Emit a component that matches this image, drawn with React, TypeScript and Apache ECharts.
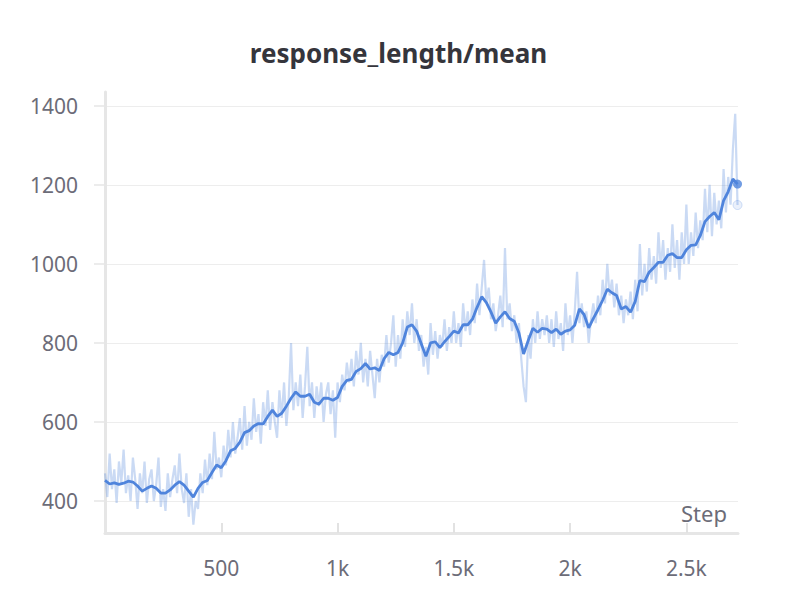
import React, { useEffect, useRef } from "react";
import * as echarts from "echarts";

const TITLE = "response_length/mean";
const X_NAME = "Step";
const X_TICKS = [500, 1000, 1500, 2000, 2500];
const Y_TICKS = [400, 600, 800, 1000, 1200, 1400];
const SMOOTH_STEP = 20;
const RAW_STEP = 10;

// smoothed (EMA) values, one every 20 steps from step 0
const smoothValues = [
  452, 443, 446, 442, 445, 450, 448, 438, 425, 432,
  438, 432, 420, 420, 428, 440, 449, 440, 425, 410,
  432, 447, 452, 472, 491, 484, 502, 527, 533, 549,
  573, 578, 590, 596, 595, 614, 630, 614, 622, 640,
  660, 676, 665, 665, 670, 650, 645, 660, 660, 655,
  662, 690, 705, 708, 728, 735, 748, 734, 737, 730,
  760, 776, 770, 776, 800, 840, 846, 830, 798, 766,
  800, 803, 788, 803, 816, 830, 825, 846, 846, 860,
  890, 917, 902, 878, 850, 866, 879, 862, 855, 825,
  772, 806, 837, 827, 837, 835, 826, 835, 822, 830,
  833, 845, 886, 872, 838, 862, 884, 908, 936, 927,
  920, 886, 892, 878, 905, 958, 955, 979, 991, 1004,
  1004, 1022, 1026, 1016, 1016, 1036, 1047, 1048, 1072, 1107,
  1120, 1130, 1112, 1160, 1183, 1215, 1202,
];

// raw values, one every 10 steps from step 0
const rawValues = [
  470, 410, 520, 430, 480, 395, 500, 445, 530, 420,
  465, 400, 510, 455, 380, 470, 420, 500, 395, 455,
  480, 400, 440, 510, 385, 430, 375, 470, 410, 455,
  490, 420, 520, 430, 395, 470, 360, 430, 340, 400,
  380, 470, 420, 505, 440, 520, 455, 575, 480, 510,
  460, 540, 490, 580, 510, 600, 520, 560, 610, 530,
  640, 540, 600, 555, 660, 575, 620, 545, 650, 590,
  680, 580, 650, 600, 560, 680, 610, 700, 590, 660,
  800, 630, 700, 640, 720, 610, 690, 790, 640, 700,
  610, 690, 640, 700, 600, 670, 700, 620, 680, 560,
  700, 650, 720, 680, 750, 700, 760, 690, 780, 720,
  800, 700, 760, 690, 780, 720, 660, 760, 700, 770,
  740, 820, 750, 800, 870, 740, 820, 760, 860, 790,
  880, 820, 900, 800, 860, 780, 820, 740, 790, 720,
  850, 770, 830, 760, 820, 790, 860, 780, 840, 800,
  880, 800, 850, 790, 900, 830, 880, 820, 910, 850,
  950, 870, 940, 1010, 900, 940, 860, 900, 830, 870,
  920, 840, 1040, 860, 900, 830, 870, 800, 850, 760,
  690, 650, 820, 760, 860, 800, 880, 810, 860, 820,
  870, 800, 860, 790, 880, 810, 850, 780, 900, 820,
  870, 800, 880, 980, 850, 900, 840, 880, 800, 860,
  900, 850, 920, 870, 960, 900, 1000, 920, 960, 890,
  950, 870, 920, 850, 910, 870, 930, 860, 960, 880,
  1050, 920, 1000, 930, 1040, 960, 1020, 950, 1080, 990,
  1060, 960, 1040, 980, 1100, 990, 1060, 960, 1080, 1000,
  1150, 1000, 1080, 1020, 1130, 1040, 1110, 1060, 1190, 1080,
  1200, 1070, 1180, 1100, 1160, 1090, 1240, 1130, 1220, 1150,
  1290, 1380, 1149,
];

const BLUE = "#4f84dc";
const FONT = "Noto Sans";

export default function App() {
  const ref = useRef<HTMLDivElement>(null);
  useEffect(() => {
    if (!ref.current) return;
    const chart = echarts.init(ref.current, null, { renderer: "svg" });
    const smooth = smoothValues.map((v, i) => [i * SMOOTH_STEP, v]);
    const raw = rawValues.map((v, i) => [i * RAW_STEP, v]);
    const lastSmooth = smooth[smooth.length - 1];
    const lastRaw = raw[raw.length - 1];
    chart.setOption({
      animation: false,
      title: {
        text: TITLE,
        left: "center",
        top: 35,
        textStyle: { fontFamily: FONT, fontSize: 26, fontWeight: "bold", color: "#35353c" },
      },
      grid: { left: 105, right: 59, top: 92, bottom: 80 },
      graphic: [
        {
          type: "text",
          right: 70,
          top: 502,
          style: { text: X_NAME, fontFamily: FONT, fontSize: 22, fill: "#6c6c78" },
        },
      ],
      xAxis: {
        type: "value",
        min: 0,
        max: 2722,
        axisLine: { show: true, lineStyle: { color: "#e6e6e6", width: 3 } },
        axisTick: { show: true, inside: true, length: 10, customValues: X_TICKS, lineStyle: { color: "#e2e2e2", width: 2 } },
        axisLabel: {
          customValues: X_TICKS,
          margin: 24,
          fontFamily: FONT,
          fontSize: 21,
          color: "#6c6c78",
          formatter: (v: number) => (v >= 1000 ? v / 1000 + "k" : String(v)),
        },
        splitLine: { show: false },
      },
      yAxis: {
        type: "value",
        min: 319,
        max: 1435,
        axisLine: { show: true, lineStyle: { color: "#e6e6e6", width: 3 } },
        axisTick: { show: true, length: 11, customValues: Y_TICKS, lineStyle: { color: "#e6e6e6", width: 1.5 } },
        axisLabel: {
          customValues: Y_TICKS,
          margin: 27,
          fontFamily: FONT,
          fontSize: 21,
          color: "#6c6c78",
          formatter: (v: number) => String(v),
        },
        splitLine: { show: true, lineStyle: { color: "#ededed", width: 1 } },
      },
      series: [
        {
          type: "line",
          data: raw,
          showSymbol: false,
          lineStyle: { color: BLUE, width: 2.2, opacity: 0.3 },
          silent: true,
          z: 1,
        },
        {
          type: "line",
          data: smooth,
          showSymbol: false,
          lineStyle: { color: BLUE, width: 2.8 },
          z: 2,
        },
        {
          type: "scatter",
          data: [lastSmooth],
          symbolSize: 9,
          itemStyle: { color: BLUE },
          z: 3,
        },
        {
          type: "scatter",
          data: [lastRaw],
          symbolSize: 9,
          itemStyle: { color: "rgba(79,132,220,0.15)", borderColor: "rgba(79,132,220,0.3)", borderWidth: 1 },
          z: 3,
        },
      ],
    });
    return () => chart.dispose();
  }, []);
  return (
    <div
      ref={ref}
      style={{ position: "fixed", left: 0, top: 0, width: 797, height: 613, background: "#fff" }}
    />
  );
}
